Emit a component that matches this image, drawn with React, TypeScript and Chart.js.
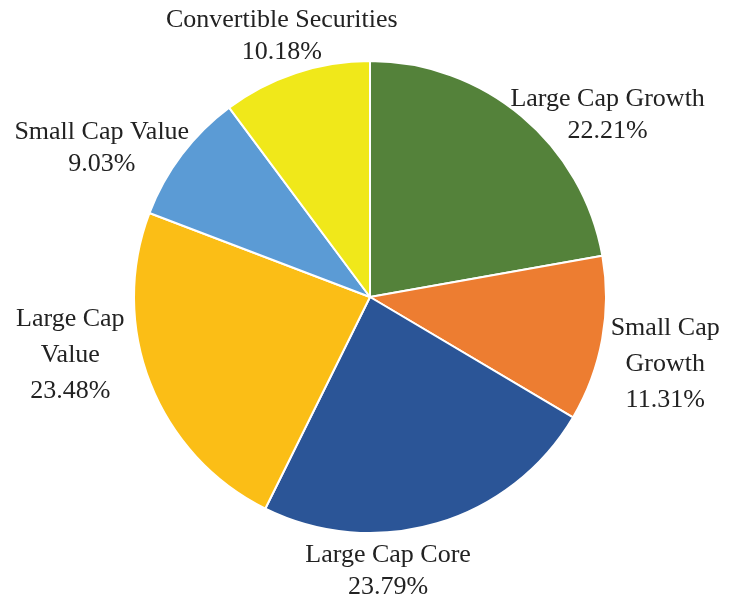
import React, { useEffect, useRef } from "react";
import { Chart, registerables } from "chart.js";

Chart.register(...registerables);

const categories = [
  "Large Cap Growth",
  "Small Cap\nGrowth",
  "Large Cap Core",
  "Large Cap\nValue",
  "Small Cap Value",
  "Convertible Securities",
];
const shares = [22.21, 11.31, 23.79, 23.48, 9.03, 10.18];
const sliceColors = ["#54823A", "#ED7D31", "#2B5597", "#FBBE16", "#5B9BD5", "#F0E81A"];

// label nudges relative to the slice's outer edge at its mid angle
const labelNudges: [number, number][] = [
  [86, -1],
  [63, 25],
  [-49, 48],
  [-80, -28],
  [-80, -6],
  [-14, -37],
];

const pieLabels = {
  id: "pieLabels",
  afterDatasetsDraw(chart: any) {
    const ctx = chart.ctx;
    const meta = chart.getDatasetMeta(0);
    ctx.save();
    ctx.font = '26px "Liberation Serif", "Times New Roman", serif';
    ctx.fillStyle = "#222222";
    ctx.textAlign = "center";
    ctx.textBaseline = "middle";
    meta.data.forEach((arc: any, i: number) => {
      const p = arc.getProps(["x", "y", "startAngle", "endAngle", "outerRadius"], true);
      const mid = (p.startAngle + p.endAngle) / 2;
      const ex = p.x + Math.cos(mid) * p.outerRadius;
      const ey = p.y + Math.sin(mid) * p.outerRadius;
      const [dx, dy] = labelNudges[i];
      const cx = ex + dx;
      const cy = ey + dy;
      const lines = [...String(chart.data.labels[i]).split("\n"), shares[i].toFixed(2) + "%"];
      const lh = lines.length > 2 ? 36 : 32;
      const top = cy - ((lines.length - 1) * lh) / 2;
      lines.forEach((t, k) => ctx.fillText(t, cx, top + k * lh));
    });
    ctx.restore();
  },
};

export default function App() {
  const ref = useRef<HTMLCanvasElement>(null);
  useEffect(() => {
    if (!ref.current) return;
    const chart = new Chart(ref.current, {
      type: "pie",
      data: {
        labels: categories,
        datasets: [
          {
            data: shares,
            backgroundColor: sliceColors,
            borderColor: "#ffffff",
            borderWidth: 2,
          },
        ],
      },
      options: {
        animation: false,
        responsive: true,
        maintainAspectRatio: false,
        layout: { padding: { left: 133, right: 130, top: 60, bottom: 68 } },
        plugins: {
          legend: { display: false },
          tooltip: { enabled: false },
        },
      },
      plugins: [pieLabels],
    });
    return () => chart.destroy();
  }, []);
  return (
    <div style={{ position: "absolute", left: 0, top: 0, width: 737, height: 602, background: "#fff" }}>
      <canvas ref={ref} />
    </div>
  );
}
